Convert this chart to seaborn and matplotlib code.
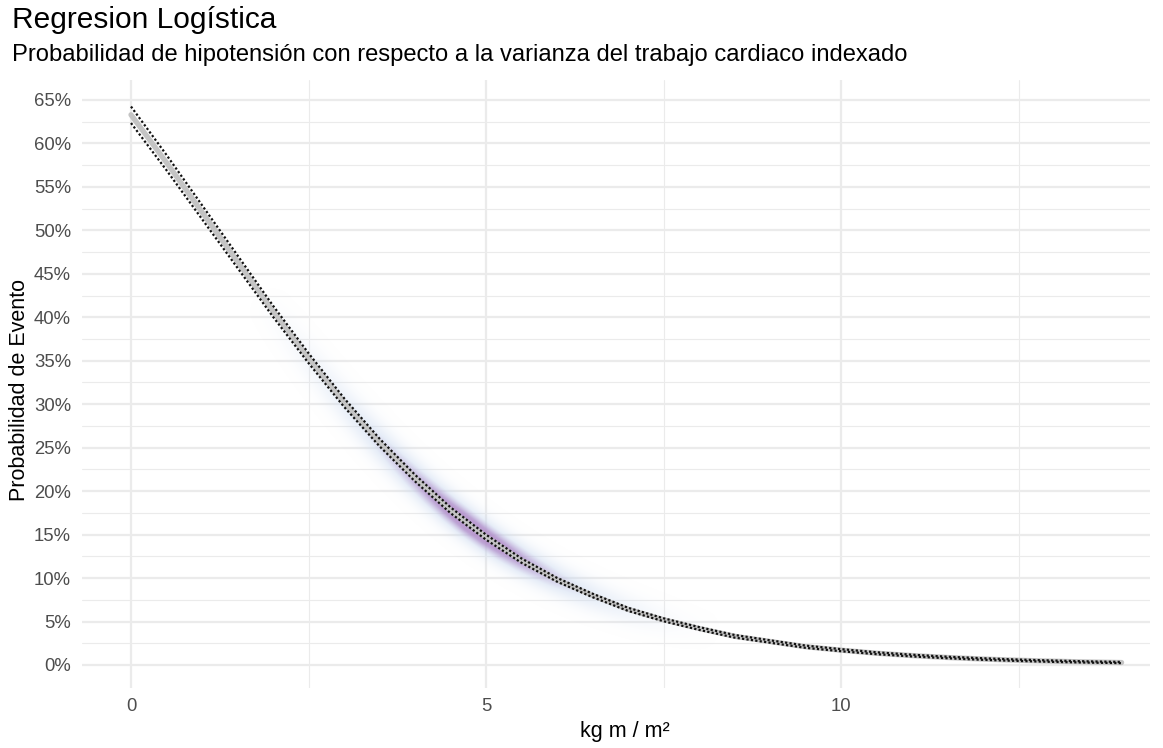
import numpy as np
import pandas as pd
import matplotlib
matplotlib.use("Agg")
import matplotlib.pyplot as plt
import seaborn as sns
from matplotlib.ticker import PercentFormatter, FixedLocator

# ---------------- data ----------------
x_vals = [0, 0.5, 1, 1.5, 2, 2.5, 3, 3.5, 4, 4.5, 5, 5.5, 6, 6.5, 7, 7.5, 8,
          8.5, 9, 9.5, 10, 10.5, 11, 11.5, 12, 12.5, 13, 13.5, 13.95]
prob = [0.633, 0.578, 0.521, 0.464, 0.407, 0.353, 0.302, 0.256, 0.215, 0.178,
        0.147, 0.120, 0.098, 0.080, 0.064, 0.052, 0.042, 0.033, 0.027, 0.021,
        0.017, 0.0135, 0.0108, 0.0086, 0.0068, 0.0054, 0.0043, 0.0034, 0.0028]
upper = [0.6425, 0.5868, 0.5290, 0.4712, 0.4134, 0.3587, 0.3070, 0.2604, 0.2188,
         0.1813, 0.1499, 0.1225, 0.1002, 0.0820, 0.0658, 0.0537, 0.0436, 0.0345,
         0.0284, 0.0223, 0.0182, 0.0146, 0.0118, 0.0095, 0.0077, 0.0062, 0.0051,
         0.0041, 0.0035]
lower = [0.6235, 0.5692, 0.5130, 0.4568, 0.4006, 0.3473, 0.2970, 0.2516, 0.2112,
         0.1747, 0.1441, 0.1175, 0.0958, 0.0780, 0.0622, 0.0503, 0.0404, 0.0315,
         0.0256, 0.0197, 0.0158, 0.0124, 0.0098, 0.0077, 0.0059, 0.0046, 0.0035,
         0.0027, 0.0021]

# density glow along the curve
glow_x = [2.0, 2.25, 2.5, 2.75, 3.0, 3.25, 3.5, 3.75, 4.0, 4.25, 4.5, 4.75, 5.0,
          5.25, 5.5, 5.75, 6.0, 6.25, 6.5, 6.75, 7.0, 7.25, 7.5, 7.75, 8.0]
glow_y = [0.407, 0.3796, 0.353, 0.327, 0.302, 0.2785, 0.256, 0.2346, 0.2146,
          0.1958, 0.1783, 0.1621, 0.147, 0.1332, 0.1204, 0.1088, 0.0981, 0.0884,
          0.0795, 0.0715, 0.0642, 0.0576, 0.0517, 0.0463, 0.0415]
glow_density = [0.05, 0.11, 0.18, 0.25, 0.33, 0.42, 0.52, 0.62, 0.73, 0.84, 0.94,
                1.00, 0.97, 0.90, 0.80, 0.69, 0.58, 0.48, 0.39, 0.31, 0.24, 0.17,
                0.11, 0.06, 0.03]

x_major = [0, 5, 10]
x_minor = [2.5, 7.5, 12.5]
y_major = [i / 100 for i in range(0, 70, 5)]
y_minor = [(i + 2.5) / 100 for i in range(0, 65, 5)]

title = "Regresion Logística"
subtitle = "Probabilidad de hipotensión con respecto a la varianza del trabajo cardiaco indexado"
xlabel = "kg m / m²"
ylabel = "Probabilidad de Evento"

df = pd.DataFrame({"x": x_vals, "p": prob, "lo": lower, "hi": upper})

# ---------------- figure ----------------
sns.set_theme(style="white")
plt.rcParams['font.family'] = ['Liberation Sans', 'DejaVu Sans']

fig = plt.figure(figsize=(11.63, 7.48), dpi=100)
ax = fig.add_axes([82 / 1163, 1 - 688 / 748, (1150 - 82) / 1163, (688 - 80) / 748])

ax.set_xlim(-0.69, 14.35)
ax.set_ylim(-0.0265, 0.673)

ax.xaxis.set_major_locator(FixedLocator(x_major))
ax.xaxis.set_minor_locator(FixedLocator(x_minor))
ax.yaxis.set_major_locator(FixedLocator(y_major))
ax.yaxis.set_minor_locator(FixedLocator(y_minor))
ax.yaxis.set_major_formatter(PercentFormatter(xmax=1, decimals=0))
ax.grid(which='major', color='#EBEBEB', lw=1.6)
ax.grid(which='minor', color='#EBEBEB', lw=0.8)
ax.set_axisbelow(True)
for s in ax.spines.values():
    s.set_visible(False)
ax.tick_params(which='both', length=0)
ax.tick_params(axis='x', pad=7, labelsize=13.3, labelcolor='#4D4D4D')
ax.tick_params(axis='y', pad=8, labelsize=13.3, labelcolor='#4D4D4D')

# ---- density glow: smooth raster around the curve, built from glow arrays ----
pix = ax.transData.transform(np.column_stack([glow_x, glow_y]))
dens = np.array(glow_density)
margin = 45
px0, py0 = pix.min(axis=0) - margin
px1, py1 = pix.max(axis=0) + margin
gx = np.arange(px0, px1, 1.0) + 0.5
gy = np.arange(py0, py1, 1.0) + 0.5
GX, GY = np.meshgrid(gx, gy)
A = pix[:-1]
B = pix[1:]
AB = B - A
L2 = (AB ** 2).sum(axis=1)
PX = GX[..., None] - A[:, 0]
PY = GY[..., None] - A[:, 1]
t = np.clip((PX * AB[:, 0] + PY * AB[:, 1]) / L2, 0, 1)
dx = PX - t * AB[:, 0]
dy = PY - t * AB[:, 1]
d2 = dx ** 2 + dy ** 2
dseg = dens[:-1] + t * (dens[1:] - dens[:-1])
sigma = 10.0
field = (dseg * np.exp(-d2 / (2 * sigma ** 2))).max(axis=-1)

blue = np.array([0.79, 0.85, 0.94])
purple = np.array([0.69, 0.55, 0.79])
mix = np.clip((field - 0.4) / 0.45, 0, 1)[..., None]
rgb = blue * (1 - mix) + purple * mix
alpha = np.clip(field * 1.1, 0, 0.85)[..., None]
rgba = np.concatenate([rgb, alpha], axis=-1)
inv = ax.transData.inverted()
(ex0, ey0), (ex1, ey1) = inv.transform([[px0, py0], [px0 + len(gx), py0 + len(gy)]])
ax.imshow(rgba, extent=(ex0, ex1, ey0, ey1), origin='lower', aspect='auto',
          interpolation='bilinear', zorder=2)
ax.set_xlim(-0.69, 14.35)
ax.set_ylim(-0.0265, 0.673)

# fitted curve (thick grey) and confidence bounds (dotted)
sns.lineplot(data=df, x="x", y="p", ax=ax, color='#C4C4C4', lw=3.8,
             solid_capstyle='round', zorder=3)
sns.lineplot(data=df, x="x", y="hi", ax=ax, color='#111111', lw=1.6,
             linestyle=(0, (1, 1)), zorder=4)
sns.lineplot(data=df, x="x", y="lo", ax=ax, color='#111111', lw=1.6,
             linestyle=(0, (1, 1)), zorder=4)

ax.set_xlabel(xlabel, fontsize=15.5, color='black', va='center')
ax.set_ylabel(ylabel, fontsize=15.5, color='black', va='center')
ax.xaxis.set_label_coords((625 - 82) / 1068, (688 - 732) / 608)
ax.yaxis.set_label_coords((20 - 82) / 1068, (688 - 390) / 608)

fig.text(12 / 1163, 1 - 20 / 748, title, fontsize=21.5, va='center', ha='left',
         color='black')
fig.text(12 / 1163, 1 - 55 / 748, subtitle, fontsize=17.1, va='center', ha='left',
         color='black')

fig.savefig("out.png", dpi=100)
